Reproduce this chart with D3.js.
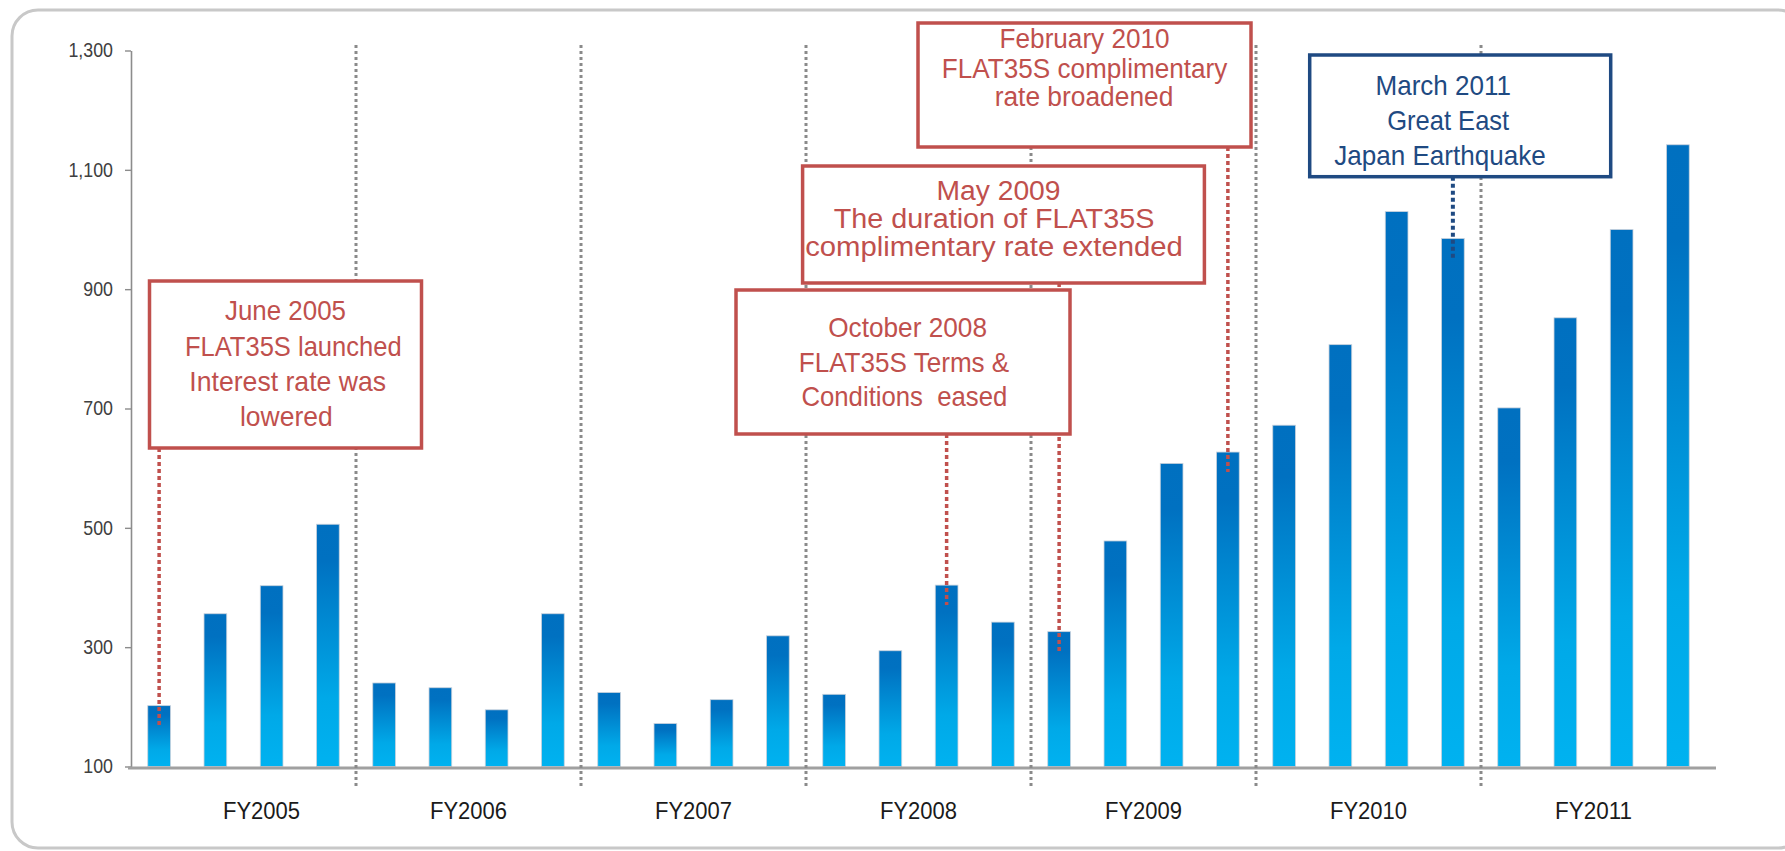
<!DOCTYPE html>
<html>
<head>
<meta charset="utf-8">
<script src="https://cdn.jsdelivr.net/npm/d3@7"></script>
<style>
  html, body { margin: 0; padding: 0; background: #ffffff; }
  svg { display: block; font-family: "Liberation Sans", Arial, sans-serif; }
  svg text { white-space: pre; }
</style>
</head>
<body>
<script>
// ---------------- DATA ----------------
const fiscalYears = ["FY2005", "FY2006", "FY2007", "FY2008", "FY2009", "FY2010", "FY2011"];
const quarters = ["Q1", "Q2", "Q3", "Q4"];
const categories = fiscalYears.flatMap(fy => quarters.map(q => fy + " " + q));
const applications = [202, 356, 403, 506, 240, 232, 195, 356, 224, 172, 212, 319, 221, 294,
                      404, 342, 326, 478, 608, 627, 672, 807, 1030, 985, 701, 852, 1000, 1142];
const yTicks = [100, 300, 500, 700, 900, 1100, 1300];

const eventJun2005 = ["June 2005", "FLAT35S launched", "Interest rate was", "lowered"];
const eventOct2008 = ["October 2008", "FLAT35S Terms &", "Conditions  eased"];
const eventMay2009 = ["May 2009", "The duration of FLAT35S", "complimentary rate extended"];
const eventFeb2010 = ["February 2010", "FLAT35S complimentary", "rate broadened"];
const eventMar2011 = ["March 2011", "Great East", "Japan Earthquake"];

// ---------------- LAYOUT / STYLE ----------------
const W = 1785, H = 851;
const RED = "#c0504d", BLUE = "#1f4a82";

const annotations = [
  { lines: eventJun2005, bar: 0, color: RED, box: [149.5, 281, 272, 167],
    ly: [310, 346, 381, 416.5], lx: [285.5, 293.3, 287.7, 286.3], lw: [121, 216.7, 196.7, 92.7], fs: 28 },
  { lines: eventMay2009, bar: 16, color: RED, box: [802.6, 166, 401.8, 117],
    ly: [190.7, 219, 247.3], lx: [998.5, 994, 994], lw: [124, 320.7, 377.7], fs: 27 },
  { lines: eventOct2008, bar: 14, color: RED, box: [736, 290, 334, 144],
    ly: [327.3, 362.7, 396.7], lx: [907.6, 904, 904.4], lw: [158.8, 210.5, 205.9], fs: 28 },
  { lines: eventFeb2010, bar: 19, color: RED, box: [918, 23, 333, 124],
    ly: [39.3, 68.8, 96.5], lx: [1084.6, 1084.6, 1084], lw: [170, 285.5, 178.7], fs: 27 },
  { lines: eventMar2011, bar: 23, color: BLUE, box: [1309.7, 55, 301, 121.7],
    ly: [85, 120, 155], lx: [1443.3, 1448.2, 1440], lw: [135.5, 122, 211.5], fs: 28 }
];

const svg = d3.select("body").append("svg").attr("width", W).attr("height", H);

// frame
svg.append("rect")
  .attr("x", 12).attr("y", 10).attr("width", 1792).attr("height", 838)
  .attr("rx", 26).attr("ry", 26)
  .attr("fill", "none").attr("stroke", "#c8c8c8").attr("stroke-width", 3);

// gradient
const grad = svg.append("defs").append("linearGradient")
  .attr("id", "barGrad").attr("x1", 0).attr("y1", 0).attr("x2", 0).attr("y2", 1);
[[0, "#0070c0"], [0.15, "#0071c1"], [0.72, "#00a9e8"], [1, "#00b2f0"]].forEach(([o, c]) =>
  grad.append("stop").attr("offset", o).attr("stop-color", c));

// scales
const x = d3.scaleBand().domain(categories).range([131, 1706])
  .paddingInner(0.596).paddingOuter(0.298);
const y = d3.scaleLinear().domain([100, 1300]).range([766.5, 50.5]);

// bars
svg.append("g").selectAll("rect")
  .data(applications)
  .join("rect")
  .attr("x", (d, i) => x(categories[i]))
  .attr("y", d => y(d))
  .attr("width", x.bandwidth())
  .attr("height", d => y(100) - y(d))
  .attr("fill", "url(#barGrad)")
  .attr("stroke", "#c9d2dc").attr("stroke-width", 0.8);

// y axis
const yAxis = svg.append("g")
  .attr("transform", "translate(131,0)")
  .call(d3.axisLeft(y).tickValues(yTicks).tickFormat(d3.format(","))
        .tickSize(6).tickSizeOuter(0).tickPadding(12));
yAxis.select(".domain").attr("stroke", "#8c8c8c").attr("stroke-width", 1.6);
yAxis.selectAll(".tick line").attr("stroke", "#8c8c8c").attr("stroke-width", 1.4);
yAxis.selectAll(".tick text")
  .attr("fill", "#404040").attr("font-size", 20)
  .attr("font-family", "'Liberation Sans', Arial, sans-serif")
  .each(function () {
    const w = this.getComputedTextLength();
    d3.select(this).attr("textLength", w * 0.89).attr("lengthAdjust", "spacingAndGlyphs");
  });

// baseline
svg.append("line")
  .attr("x1", 128).attr("x2", 1716)
  .attr("y1", y(100) + 1.5).attr("y2", y(100) + 1.5)
  .attr("stroke", "#a0a0a0").attr("stroke-width", 3);

// fiscal year separators
const step = x.step();
d3.range(1, fiscalYears.length).forEach(k => {
  const sx = x(categories[k * 4]) - x.paddingInner() * step / 2;
  svg.append("line")
    .attr("x1", sx).attr("x2", sx).attr("y1", 45).attr("y2", 786)
    .attr("stroke", "#8a8a8a").attr("stroke-width", 3)
    .attr("stroke-dasharray", "3,3");
});

// fiscal year labels
svg.append("g").selectAll("text")
  .data(fiscalYears)
  .join("text")
  .attr("x", (d, i) => (x(categories[i * 4]) + x(categories[i * 4 + 3]) + x.bandwidth()) / 2 + (i === 0 ? 18 : 0))
  .attr("y", 810.5)
  .attr("text-anchor", "middle")
  .attr("dominant-baseline", "central")
  .attr("font-size", 23)
  .attr("fill", "#1a1a1a")
  .attr("textLength", 77).attr("lengthAdjust", "spacingAndGlyphs")
  .text(d => d);

// connectors (under boxes)
annotations.forEach(a => {
  const cx = x(categories[a.bar]) + x.bandwidth() / 2;
  const [bx, by, bw, bh] = a.box;
  svg.append("line")
    .attr("x1", cx).attr("x2", cx)
    .attr("y1", by + bh).attr("y2", y(applications[a.bar]) + 20)
    .attr("stroke", a.color).attr("stroke-width", a.color === BLUE ? 4 : 3.5)
    .attr("stroke-dasharray", "4,3");
});

// annotation boxes
annotations.forEach(a => {
  const [bx, by, bw, bh] = a.box;
  const g = svg.append("g");
  g.append("rect")
    .attr("x", bx).attr("y", by).attr("width", bw).attr("height", bh)
    .attr("fill", "#ffffff").attr("stroke", a.color).attr("stroke-width", 3.5);
  a.lines.forEach((t, j) => {
    g.append("text")
      .attr("x", a.lx[j]).attr("y", a.ly[j])
      .attr("text-anchor", "middle")
      .attr("dominant-baseline", "central")
      .attr("font-size", a.fs)
      .attr("fill", a.color)
      .attr("xml:space", "preserve")
      .attr("textLength", a.lw[j]).attr("lengthAdjust", "spacingAndGlyphs")
      .text(t);
  });
});
</script>
</body>
</html>
